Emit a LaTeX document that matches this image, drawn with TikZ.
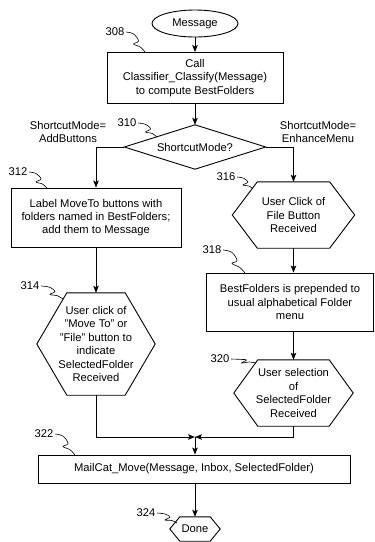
\documentclass[tikz,border=0pt]{standalone}
\usepackage{fontspec}
\setmainfont{Liberation Sans}
\usetikzlibrary{arrows.meta,calc,shapes.geometric}
\newcommand\hexdraw[2]{\draw[shp] (#1.west) -- ($(#1.north west)+(#2,0)$) -- ($(#1.north east)+(-#2,0)$) -- (#1.east) -- ($(#1.south east)+(-#2,0)$) -- ($(#1.south west)+(#2,0)$) -- cycle;}
\newcommand\squig[2]{\draw[lead] let \p1=($(#1)+(1.5,0)$), \p2=(#2), \p3=($(\p2)-(\p1)$) in plot[smooth,tension=0.6] coordinates {(\p1) ($(\p1)+(0.4*\x3,0.1*\y3)$) ($(\p1)!0.5!(\p2)+(3,-1)$) ($(\p1)!0.5!(\p2)+(-2,2)$) ($(\p1)+(0.75*\x3,0.75*\y3)$) (\p2)};}
\begin{document}
\begin{tikzpicture}[x=1pt,y=-1pt,
  every node/.style={font=\fontsize{11.2}{13.4}\selectfont, inner sep=0pt, align=center},
  box/.style={draw, line width=0.9pt, rectangle},
  shp/.style={line width=0.9pt},
  hexbox/.style={rectangle, minimum width=#1},
  conn/.style={line width=0.9pt, -{Stealth[length=7pt,width=5.5pt,inset=1.5pt]}},
  lead/.style={line width=0.6pt},
]
\useasboundingbox (0,0) rectangle (375,542);

% main nodes
\node[draw, ellipse, line width=0.9pt, minimum width=86, minimum height=27] (msg) at (195,23.5) {Message};
\node[box, minimum width=176, minimum height=51] (b308) at (195,78) {Call\\Classifier\_Classify(Message)\\to compute BestFolders};
\node[minimum width=141, minimum height=44] (d) at (195,147) {ShortcutMode?};
\draw[shp] (d.west) -- (d.north) -- (d.east) -- (d.south) -- cycle;

\node[box, minimum width=170, minimum height=59] (b312) at (96,217.5) {Label MoveTo buttons with\\folders named in BestFolders;\\add them to Message};
\node[hexbox=118, minimum height=102] (h314) at (96,344) {User click of\\"Move To" or\\"File" button to\\indicate\\SelectedFolder\\Received};
\hexdraw{h314}{30}

\node[hexbox=122, minimum height=66] (h316) at (293.5,215) {User Click of\\File Button\\Received};
\hexdraw{h316}{25}
\node[box, minimum width=167, minimum height=58] (b318) at (290,302) {BestFolders is prepended to\\usual alphabetical Folder\\menu};
\node[hexbox=119, minimum height=66] (h320) at (293.5,393) {User selection\\of\\SelectedFolder\\Received};
\hexdraw{h320}{24}

\node[box, minimum width=312, minimum height=28] (b322) at (194,469) {MailCat\_Move(Message, Inbox, SelectedFolder)};
\node[hexbox=50, minimum height=24] (done) at (195,529) {Done};
\hexdraw{done}{10}

% branch labels
\node (lab1) at (68,132) {ShortcutMode=\\AddButtons};
\node (lab2) at (318,132) {ShortcutMode=\\EnhanceMenu};

% connectors
\coordinate (m) at (195,437);
\draw[conn] (msg.south) -- (b308.north);
\draw[conn] (b308.south) -- (d.north);
\draw[conn] (d.west) -| (b312.north);
\draw[conn] (d.east) -| (h316.north);
\draw[conn] (b312.south) -- (h314.north);
\draw[conn] (h316.south) -- (h316.south |- b318.north);
\draw[conn] (h316.south |- b318.south) -- (h320.north);
\draw[conn] (h314.south) |- (m);
\draw[conn] (h320.south) |- (m);
\draw[conn] (m) -- (m |- b322.north);
\draw[conn] (m |- b322.south) -- (done.north);

% reference numerals
\node (n308) at (115,32) {308};
\node (n310) at (127,123) {310};
\node (n312) at (18,172) {312};
\node (n314) at (30,286) {314};
\node (n316) at (226,177) {316};
\node (n318) at (212,250) {318};
\node (n320) at (220,359) {320};
\node (n322) at (44,434) {322};
\node (n324) at (146,513) {324};

\coordinate (t308) at (145,52);
\coordinate (t310) at (157,137);
\coordinate (t312) at (47,188);
\coordinate (t314) at (63,299);
\coordinate (t316) at (253,189);
\coordinate (t318) at (245,273);
\coordinate (t320) at (256,363);
\coordinate (t322) at (75,455);
\coordinate (t324) at (177,523);

\squig{n308.east}{t308}
\squig{n310.east}{t310}
\squig{n312.east}{t312}
\squig{n314.east}{t314}
\squig{n316.east}{t316}
\squig{n318.east}{t318}
\squig{n320.east}{t320}
\squig{n322.east}{t322}
\squig{n324.east}{t324}
\end{tikzpicture}
\end{document}
